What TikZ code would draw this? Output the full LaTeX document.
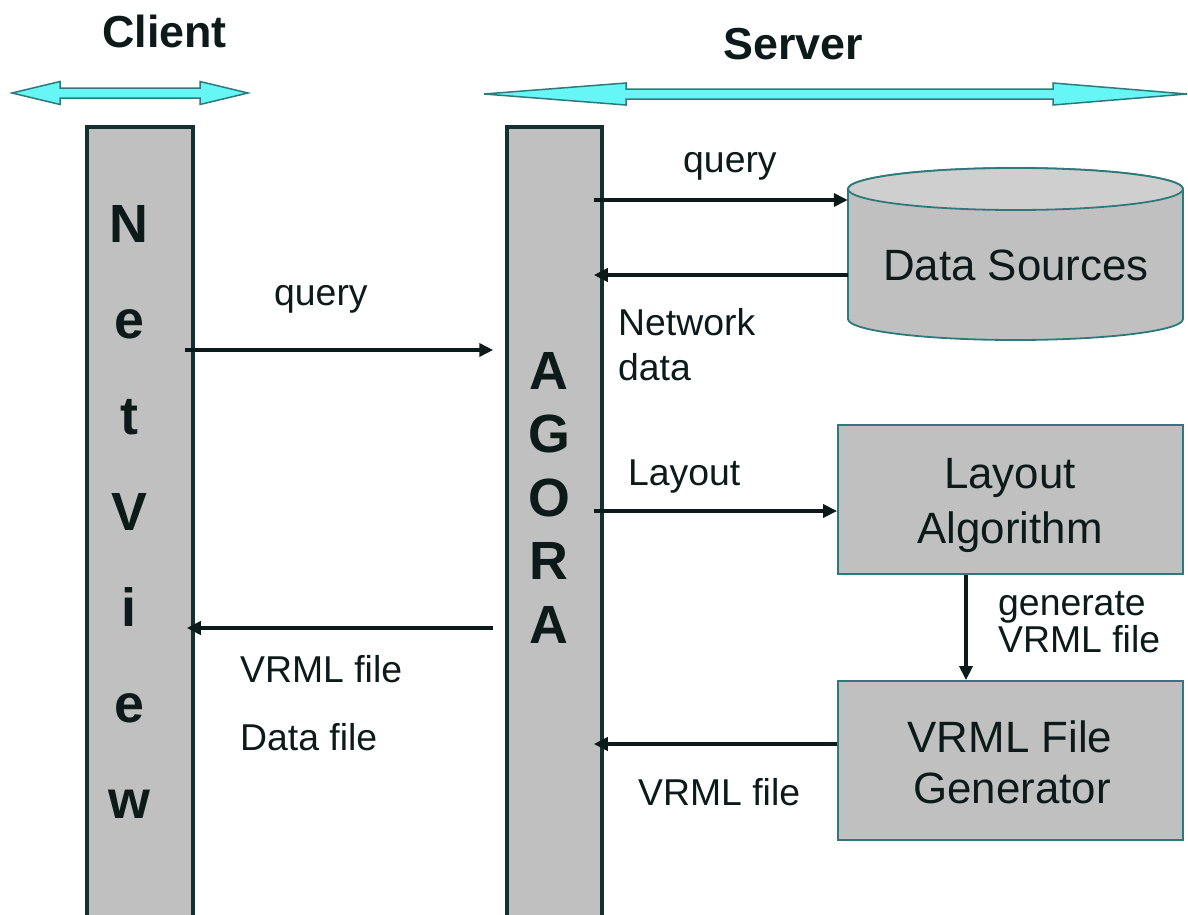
\documentclass[tikz,border=0pt]{standalone}
\usepackage{fontspec}
\setmainfont{Liberation Sans}
\usetikzlibrary{arrows.meta}
\definecolor{panelgray}{HTML}{C0C0C0}
\definecolor{capgray}{HTML}{CFCFCF}
\definecolor{edgeteal}{HTML}{2E7A7A}
\definecolor{bardark}{HTML}{143030}
\definecolor{inkdark}{HTML}{0C1A1A}
\definecolor{cyanfill}{HTML}{66F6F6}

\begin{document}
\begin{tikzpicture}[x=1bp,y=-1bp,
  bar/.style={draw=bardark, fill=panelgray, line width=3.5bp, inner sep=0pt,
              anchor=north, minimum height=830bp},
  box/.style={draw=edgeteal, fill=panelgray, line width=1.8bp, inner sep=0pt,
              minimum width=345bp},
  boxtext/.style={font=\fontsize{44}{50}\selectfont, anchor=base, inner sep=0pt, text=inkdark},
  lbl/.style={font=\fontsize{37.5}{42}\selectfont, anchor=base west, inner sep=0pt, text=inkdark},
  flow/.style={draw=inkdark, line width=3.8bp, -{Triangle[length=14bp,width=13bp]}},
  head/.style={font=\bfseries\fontsize{45}{52}\selectfont, anchor=base, inner sep=0pt, text=inkdark},
  barletter/.style={font=\bfseries\fontsize{54}{60}\selectfont, anchor=base, inner sep=0pt, text=inkdark},
  span/.style={draw=edgeteal, fill=cyanfill, line width=1.5bp, line join=miter}
]
\useasboundingbox (0,0) rectangle (1188,915);
\fill[white] (0,0) rectangle (1188,915);

% headings and the two scope arrows
\node[head] (client) at (164.5,47) {Client};
\node[head] (server) at (793.5,59) {Server};
\path[span] (12,93) -- (60,81.5) -- (60,88) -- (200,88) -- (200,81.5) -- (248,93)
  -- (200,104.5) -- (200,98) -- (60,98) -- (60,104.5) -- cycle;
\path[span] (484,94) -- (626,83) -- (626,89) -- (1053,89) -- (1053,83) -- (1187,94)
  -- (1053,105) -- (1053,99) -- (626,99) -- (626,105) -- cycle;

% vertical bars
\node[bar, minimum width=106bp] (netview) at (140,125) {};
\node[bar, minimum width=95bp] (agora) at (554.5,125) {};
\foreach \ch [count=\k] in {N,e,t,V,i,e,w}
  \node[barletter] (nv\k) at (129,{242+96*(\k-1)}) {\ch};
\foreach \ch [count=\k] in {A,G,O,R,A}
  \node[barletter] (ag\k) at (549,{389+63.5*(\k-1)}) {\ch};

% data sources cylinder
\node[minimum width=335bp, minimum height=172bp, inner sep=0pt] (ds) at (1015.5,254) {};
\path[fill=panelgray, draw=edgeteal, line width=1.8bp]
  (848,189) -- (848,319) arc[start angle=180, end angle=360, x radius=167.5bp, y radius=21bp]
  -- (1183,189) arc[start angle=0, end angle=180, x radius=167.5bp, y radius=21bp] -- cycle;
\path[fill=capgray, draw=edgeteal, line width=1.8bp]
  (1015.5,189) ellipse[x radius=167.5bp, y radius=21bp];
\node[boxtext] (dstext) at (1016,280) {Data Sources};

% processing boxes
\node[box, minimum height=149bp] (layout) at (1010.5,499.5) {};
\node[boxtext] (lay1) at (1010,488) {Layout};
\node[boxtext] (lay2) at (1010,543) {Algorithm};
\node[box, minimum height=159bp] (vrmlgen) at (1010.5,760.5) {};
\node[boxtext] (gen1) at (1010,752) {VRML File};
\node[boxtext] (gen2) at (1012,803) {Generator};

% connector end points just inside the bars
\coordinate (nvR) at ([xshift=-10bp]netview.east);
\coordinate (nvT) at ([xshift=-8bp]netview.east);
\coordinate (agL) at ([xshift=-12bp]agora.west);
\coordinate (agR) at ([xshift=-10bp]agora.east);

% connectors
\draw[flow] (nvR |- 0,350) -- (agL |- 0,350);
\draw[flow] (agL |- 0,628) -- (nvT |- 0,628);
\draw[flow] (agR |- 0,200) -- (ds.west |- 0,200);
\draw[flow] (ds.west |- 0,275) -- (agR |- 0,275);
\draw[flow] (agR |- 0,511) -- (layout.west |- 0,511);
\draw[flow] ([xshift=-44.5bp]layout.south) -- ([xshift=-44.5bp]vrmlgen.north);
\draw[flow] (vrmlgen.west |- 0,744) -- (agR |- 0,744);

% connector labels
\node[lbl] (lq1) at (683,172) {query};
\node[lbl] (lq2) at (274,305) {query};
\node[lbl] (lnd1) at (618,335) {Network};
\node[lbl] (lnd2) at (618,380) {data};
\node[lbl] (llay) at (628,485) {Layout};
\node[lbl] (lgen1) at (998,615) {generate};
\node[lbl] (lgen2) at (998,652) {VRML file};
\node[lbl] (lvf) at (638,805) {VRML file};
\node[lbl] (lcv) at (240,682) {VRML file};
\node[lbl] (lcd) at (240,750) {Data file};
\end{tikzpicture}
\end{document}
